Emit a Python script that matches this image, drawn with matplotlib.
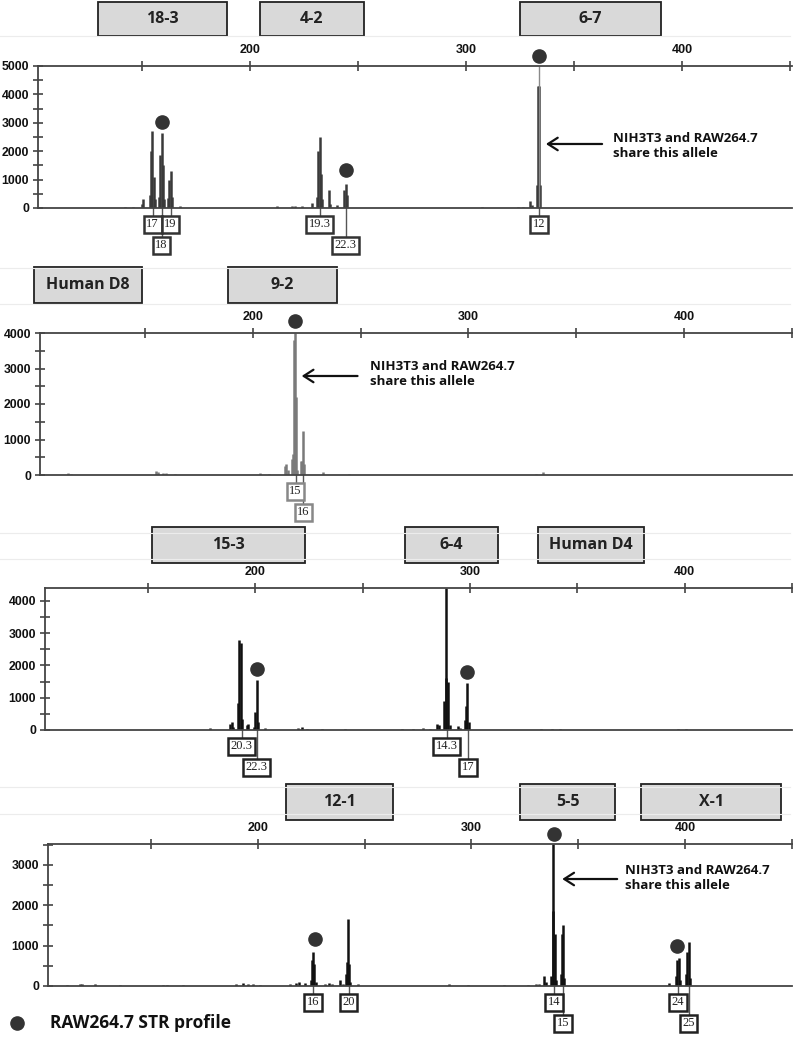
import matplotlib
matplotlib.use("Agg")
import matplotlib.pyplot as plt
from matplotlib.patches import Rectangle
from matplotlib.lines import Line2D
from matplotlib.transforms import blended_transform_factory as btf

plt.rcParams["font.family"] = ["Liberation Sans", "DejaVu Sans"]
plt.rcParams["font.weight"] = "bold"

# ---------------- data ----------------
# Panel 1 (18-3, 4-2, 6-7)
p1_pos = [142.1, 145.8, 149.9, 150.5, 153.6, 154.2, 154.8, 155.4, 155.9, 157.7, 158.5, 159.1,
          159.7, 160.3, 162.0, 162.6, 163.3, 163.9, 167.6,
          212.4, 219.3, 220.8, 223.9, 228.6, 230.9, 231.6, 232.4, 232.9, 233.5, 236.4, 237.0,
          240.2, 243.7, 244.3, 245.1,
          307.3, 324.2, 326.2, 329.6, 330.6, 332.7, 333.2, 333.7, 334.2]
p1_height = [50, 30, 150, 300, 450, 2000, 2700, 1100, 300, 400, 1850, 2650,
             1500, 300, 350, 1000, 1300, 400, 80,
             60, 80, 80, 60, 180, 400, 2000, 2500, 1200, 300, 650, 150,
             100, 650, 850, 450,
             40, 50, 40, 250, 100, 800, 4300, 4300, 800]
p1_offscale = [333.7]
p1_loci = ["18-3", "4-2", "6-7"]
p1_loci_range = [(129.6, 189.4), (204.6, 252.8), (325.0, 390.3)]
p1_alleles = ["17", "19", "18", "19.3", "22.3", "12"]
p1_allele_pos = [155.0, 163.3, 159.1, 232.4, 244.3, 333.7]
p1_allele_row = [0, 0, 1, 0, 1, 0]
p1_dot_pos = [159.1, 244.4, 333.7]
p1_dot_val = [3028, 1338, 5352]

# Panel 2 (Human D8, 9-2)
p2_pos = [114.5, 115.6, 155.1, 156.2, 158.5, 160.0, 163.9, 203.2, 207.5,
          214.8, 215.6, 216.3, 218.1, 218.5, 219.3, 219.6, 219.9, 220.5,
          222.2, 222.7, 223.3, 223.9, 232.5, 244.6, 289.7, 331.3, 334.4]
p2_height = [60, 40, 120, 80, 70, 60, 30, 60, 40,
             250, 300, 150, 450, 600, 3800, 4000, 2200, 150,
             400, 400, 1250, 300, 80, 30, 10, 30, 80]
p2_loci = ["Human D8", "9-2"]
p2_loci_range = [(98.6, 148.6), (188.4, 238.9)]
p2_alleles = ["15", "16"]
p2_allele_pos = [219.9, 223.5]
p2_allele_row = [0, 1]
p2_dot_pos = [219.6]
p2_dot_val = [4338]

# Panel 3 (15-3, 6-4, Human D4)
p3_pos = [178.9, 188.2, 189.0, 189.7, 192.0, 192.5, 193.1, 193.6, 196.0, 196.7,
          199.3, 199.9, 200.6, 201.3, 204.5, 220.0, 221.6, 223.9, 230.9, 241.7,
          268.1, 273.5, 278.2, 281.3, 284.4, 285.6, 288.0, 288.7, 289.0, 289.8, 290.6,
          294.4, 295.2, 297.6, 298.0, 298.8, 299.4, 333.3, 338.4, 342.1, 396.9, 400.8]
p3_height = [50, 200, 250, 100, 850, 2800, 2700, 350, 150, 200,
             100, 550, 1550, 250, 50, 60, 80, 40, 30, 30,
             20, 30, 50, 30, 200, 150, 900, 1600, 4400, 1500, 150,
             120, 60, 300, 750, 1450, 250, 40, 40, 30, 30, 40]
p3_loci = ["15-3", "6-4", "Human D4"]
p3_loci_range = [(151.9, 223.1), (269.6, 312.9), (331.6, 380.9)]
p3_alleles = ["20.3", "22.3", "14.3", "17"]
p3_allele_pos = [193.6, 200.7, 289.2, 299.0]
p3_allele_row = [0, 1, 0, 1]
p3_dot_pos = [200.7, 298.5]
p3_dot_val = [1890, 1797]

# Panel 4 (12-1, 5-5, X-1)
p4_pos = [110.6, 116.8, 117.6, 123.8, 135.5, 155.8, 157.4, 165.1, 190.0, 193.1, 195.4,
          197.8, 200.9, 215.0, 218.1, 219.3, 222.0,
          225.1, 225.6, 226.0, 226.5, 227.1, 231.3, 233.6, 234.9, 238.3, 239.9,
          241.1, 241.6, 242.2, 242.8, 243.4, 246.9,
          289.7, 298.3, 315.4, 326.3, 330.2, 331.8, 334.1, 334.9,
          337.2, 338.0, 338.4, 338.9, 339.6, 341.7, 342.2, 342.7, 343.3,
          392.5, 395.9, 396.4, 396.9, 397.5, 400.5, 401.1, 401.6, 402.3]
p4_height = [30, 50, 40, 40, 30, 20, 20, 20, 40, 70, 50,
             40, 30, 40, 70, 100, 70,
             150, 650, 850, 550, 100, 40, 80, 60, 150, 50,
             300, 600, 1650, 550, 100, 40,
             40, 20, 20, 20, 40, 40, 250, 100,
             250, 1850, 3520, 1300, 150, 300, 1300, 1500, 200,
             80, 250, 650, 700, 150, 300, 850, 1100, 200]
p4_loci = ["12-1", "5-5", "X-1"]
p4_loci_range = [(213.1, 263.1), (322.9, 367.3), (379.4, 444.9)]
p4_alleles = ["16", "20", "14", "15", "24", "25"]
p4_allele_pos = [225.9, 242.6, 338.6, 342.8, 396.7, 401.6]
p4_allele_row = [0, 0, 0, 1, 0, 1]
p4_dot_pos = [226.6, 338.8, 396.3]
p4_dot_val = [1165, 3768, 992]

y_max = [5000, 4000, 4400, 3520]
shared_text = ["NIH3T3 and RAW264.7", "share this allele"]
legend_text = "RAW264.7 STR profile"

# ---------------- layout ----------------
W, H = 796, 1038
fig = plt.figure(figsize=(W / 100, H / 100), dpi=100)
fig.patch.set_facecolor("white")
HEAD_FONT = ["Open Sans", "DejaVu Sans"]

def fy(py):
    return 1 - py / H

# faint separator lines
for py in [36, 268, 304, 533, 559, 787, 814]:
    fig.add_artist(Line2D([0, 790 / W], [fy(py), fy(py)], color="#ececec", lw=0.8))

panels = [
    dict(rect=(38, 66, 792, 208), xlim=(101.9, 450.9), pos=p1_pos, h=p1_height, color="#3a3a3a",
         loci=p1_loci, lr=p1_loci_range, box_y=(2, 36), al=p1_alleles, ap=p1_allele_pos,
         ar=p1_allele_row, dp=p1_dot_pos, dv=p1_dot_val, abox="#333333",
         arrow=(363.0, 337.0, 2254), txt=(368.0, 2200)),
    dict(rect=(40, 333, 792, 475), xlim=(101.4, 449.5), pos=p2_pos, h=p2_height, color="#7a7a7a",
         loci=p2_loci, lr=p2_loci_range, box_y=(267, 303), al=p2_alleles, ap=p2_allele_pos,
         ar=p2_allele_row, dp=p2_dot_pos, dv=p2_dot_val, abox="#888888",
         arrow=(248.6, 222.7, 2789), txt=(254.2, 2845)),
    dict(rect=(45, 588, 792, 730), xlim=(102.0, 449.8), pos=p3_pos, h=p3_height, color="#111111",
         loci=p3_loci, lr=p3_loci_range, box_y=(527, 563), al=p3_alleles, ap=p3_allele_pos,
         ar=p3_allele_row, dp=p3_dot_pos, dv=p3_dot_val, abox="#222222",
         arrow=None, txt=None),
    dict(rect=(48, 844, 792, 986), xlim=(101.9, 449.5), pos=p4_pos, h=p4_height, color="#111111",
         loci=p4_loci, lr=p4_loci_range, box_y=(784, 820), al=p4_alleles, ap=p4_allele_pos,
         ar=p4_allele_row, dp=p4_dot_pos, dv=p4_dot_val, abox="#222222",
         arrow=(368.2, 342.5, 2652), txt=(372.0, 2677)),
]

axis_col = "#444444"
for i, p in enumerate(panels):
    l, t, r, b = p["rect"]
    ax = fig.add_axes([l / W, fy(b), (r - l) / W, (b - t) / H])
    ax.set_xlim(*p["xlim"])
    ax.set_ylim(0, y_max[i])
    ax.spines["right"].set_visible(False)
    for s in ["left", "top", "bottom"]:
        ax.spines[s].set_color(axis_col)
        ax.spines[s].set_linewidth(1.3)
    ax.xaxis.tick_top()
    ax.set_xticks([150, 200, 250, 300, 350, 400, 450])
    ax.set_xticklabels(["", "200", "", "300", "", "400", ""])
    ax.tick_params(axis="x", direction="inout", length=7, width=1.2, color=axis_col, pad=4,
                   labelsize=9, labelcolor="#111111")
    ax.set_yticks(list(range(0, y_max[i] + 1, 1000)))
    ax.set_yticks(list(range(500, y_max[i] + 1, 1000)), minor=True)
    ax.tick_params(axis="y", which="both", direction="inout", length=7, width=1.2,
                   color=axis_col, pad=3, labelsize=8.8, labelcolor="#111111")
    ax.set_facecolor("none")

    # peaks
    ax.vlines(p["pos"], 0, p["h"], color=p["color"], lw=1.8)
    if i == 0:
        ax.vlines(p1_offscale, 0, y_max[0], color="#8a8a8a", lw=1.0)

    # locus header boxes
    tr_fig = btf(ax.transData, fig.transFigure)
    y0, y1 = p["box_y"]
    for name, (a, bb) in zip(p["loci"], p["lr"]):
        ax.add_patch(Rectangle((a, fy(y1)), bb - a, (y1 - y0) / H, transform=tr_fig,
                               facecolor="#d9d9d9", edgecolor="#222222", lw=1.3, clip_on=False))
        ax.text((a + bb) / 2, fy((y0 + y1) / 2), name, transform=tr_fig, ha="center",
                va="center", fontsize=11.5, fontweight="bold", family=HEAD_FONT, color="#222222")

    # allele label boxes
    tr_ax = btf(ax.transData, ax.transAxes)
    hpx = b - t
    for lab, x, row in zip(p["al"], p["ap"], p["ar"]):
        cy = -(16 + 21 * row) / hpx
        top = -(8 + 21 * row) / hpx
        ax.plot([x, x], [0, top], transform=tr_ax, color="#555555", lw=1.0, clip_on=False)
        ax.text(x, cy, lab, transform=tr_ax, ha="center", va="center", fontsize=9,
                family="Liberation Serif", fontweight="normal", color="#222222",
                bbox=dict(boxstyle="square,pad=0.2", facecolor="white",
                          edgecolor=p["abox"], lw=1.8))

    # dots
    ax.plot(p["dp"], p["dv"], "o", color="#333333", markersize=9.5, clip_on=False,
            linestyle="none")

    # arrow + text
    if p["arrow"] is not None:
        x_tail, x_head, yv = p["arrow"]
        ax.annotate("", xy=(x_head, yv), xytext=(x_tail, yv),
                    arrowprops=dict(arrowstyle="->,head_length=0.7,head_width=0.45",
                                    lw=1.6, color="#111111", shrinkA=0, shrinkB=0))
        tx, ty = p["txt"]
        ax.text(tx, ty, "\n".join(shared_text), ha="left", va="center", fontsize=9.5,
                fontweight="bold", family=HEAD_FONT, color="#111111", linespacing=1.2)

# legend
fig.add_artist(Line2D([17 / W], [fy(1023)], marker="o", color="#333333", markersize=9.5,
                      linestyle="none"))
fig.text(50 / W, fy(1023), legend_text, ha="left", va="center", fontsize=12.5,
         fontweight="bold", family=HEAD_FONT, color="#111111")

fig.savefig("out.png", dpi=100, facecolor="white")
